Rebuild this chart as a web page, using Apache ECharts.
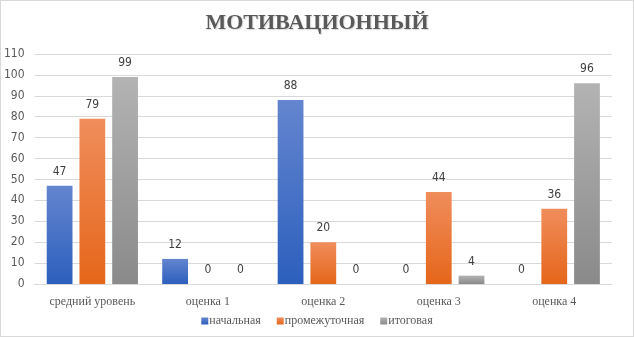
<!DOCTYPE html>
<html>
<head>
<meta charset="utf-8">
<script src="https://cdn.jsdelivr.net/npm/echarts@6/dist/echarts.min.js"></script>
<style>
html,body{margin:0;padding:0;background:#fff;}
#chart{position:absolute;left:0;top:0;width:632px;height:335px;border:1px solid #d9d9d9;}
</style>
</head>
<body>
<div id="chart"></div>
<script>
var categories = ['средний уровень', 'оценка 1', 'оценка 2', 'оценка 3', 'оценка 4'];
var seriesNames = ['начальная', 'промежуточная', 'итоговая'];
var nachalnaya = [47, 12, 88, 0, 0];
var promezhutochnaya = [79, 0, 20, 44, 36];
var itogovaya = [99, 0, 0, 4, 96];

// цвета: верх / низ градиента
var colorsTop = ['#6485cf', '#f08d5c', '#b3b3b3'];
var colorsBottom = ['#2c5fbd', '#e5661a', '#8a8a8a'];

function grad(i){
	return new echarts.graphic.LinearGradient(0, 0, 0, 1, [
		{offset: 0, color: colorsTop[i]},
		{offset: 1, color: colorsBottom[i]}
	]);
}

var myChart = echarts.init(document.getElementById('chart'));
var labelStyle = {show: true, position: 'top', distance: 8, color: '#404040', fontSize: 12, fontFamily: 'DejaVu Sans Condensed'};

var data = [nachalnaya, promezhutochnaya, itogovaya];
var series = [];
for (var i = 0; i < 3; i++) {
	series.push({
		name: seriesNames[i],
		type: 'bar',
		data: data[i],
		barGap: '27%',
		barCategoryGap: '21%',
		itemStyle: {color: grad(i)},
		label: labelStyle
	});
}

var option = {
	animation: false,
	title: {
		text: 'МОТИВАЦИОННЫЙ',
		left: 'center',
		top: 6,
		textStyle: {
			fontFamily: 'Liberation Serif',
			fontWeight: 'bold',
			fontSize: 22,
			color: '#595959',
			textShadowColor: 'rgba(0,0,0,0.15)',
			textShadowBlur: 1,
			textShadowOffsetX: 1,
			textShadowOffsetY: 1
		}
	},
	legend: {
		data: seriesNames,
		bottom: 4,
		left: 'center',
		itemWidth: 7,
		itemHeight: 7,
		itemGap: 16,
		icon: 'rect',
		textStyle: {fontFamily: 'Liberation Serif', fontSize: 12, color: '#595959', padding: [0, 0, 0, -4]}
	},
	grid: {left: 31, right: 21, top: 53, bottom: 52},
	xAxis: {
		type: 'category',
		data: categories,
		axisLine: {lineStyle: {color: '#d9d9d9'}},
		axisTick: {show: false},
		axisLabel: {fontFamily: 'Liberation Serif', fontSize: 12, color: '#595959', margin: 12}
	},
	yAxis: {
		type: 'value',
		min: 0,
		max: 110,
		interval: 10,
		axisLine: {show: false},
		axisTick: {show: false},
		splitLine: {lineStyle: {color: '#d9d9d9'}},
		axisLabel: {fontFamily: 'DejaVu Sans Condensed', fontSize: 12, color: '#595959', margin: 10}
	},
	series: series
};
myChart.setOption(option);
</script>
</body>
</html>
